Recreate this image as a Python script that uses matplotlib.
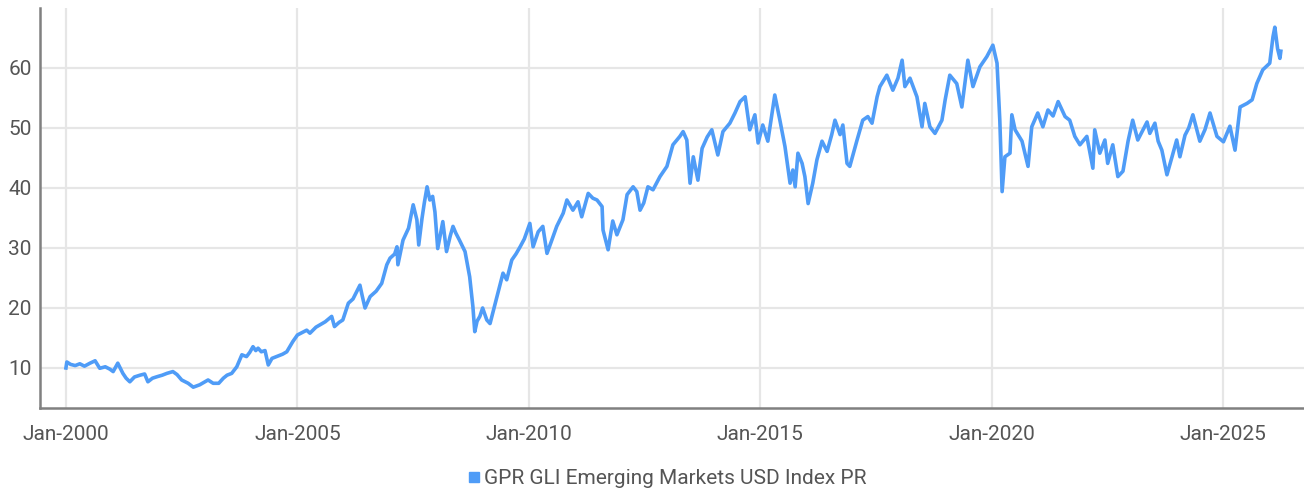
import matplotlib.pyplot as plt
from matplotlib.lines import Line2D

# values (fractional year, index level)
years = [
    2000.00, 2000.02, 2000.10, 2000.20, 2000.30, 2000.40, 2000.52, 2000.63, 2000.73, 2000.85, 2000.95,
    2001.02, 2001.12, 2001.23, 2001.30, 2001.38, 2001.48, 2001.60, 2001.70, 2001.77, 2001.87, 2001.97,
    2002.08, 2002.18, 2002.31, 2002.40, 2002.50, 2002.64, 2002.75, 2002.89, 2002.98,
    2003.07, 2003.18, 2003.30, 2003.40, 2003.48, 2003.58, 2003.69, 2003.80, 2003.90, 2003.97,
    2004.04, 2004.10, 2004.15, 2004.22, 2004.30, 2004.37, 2004.45, 2004.58, 2004.68, 2004.77, 2004.90,
    2005.00, 2005.10, 2005.20, 2005.27, 2005.40, 2005.60, 2005.74, 2005.80, 2005.90, 2005.98,
    2006.10, 2006.20, 2006.35, 2006.40, 2006.46, 2006.57, 2006.70, 2006.82, 2006.93,
    2007.00, 2007.10, 2007.15, 2007.17, 2007.28, 2007.40, 2007.50, 2007.58, 2007.62, 2007.69, 2007.74,
    2007.80, 2007.86, 2007.92, 2007.97,
    2008.03, 2008.14, 2008.22, 2008.30, 2008.36, 2008.42, 2008.50, 2008.62, 2008.72, 2008.79, 2008.83,
    2008.88, 2008.94,
    2009.00, 2009.09, 2009.16, 2009.31, 2009.44, 2009.52, 2009.63, 2009.72, 2009.81, 2009.90,
    2010.02, 2010.09, 2010.20, 2010.30, 2010.39, 2010.48, 2010.60, 2010.74, 2010.82, 2010.95,
    2011.06, 2011.14, 2011.28, 2011.38, 2011.47, 2011.58, 2011.60, 2011.71, 2011.81, 2011.90,
    2012.03, 2012.12, 2012.25, 2012.33, 2012.40, 2012.48, 2012.57, 2012.68, 2012.83, 2012.98,
    2013.11, 2013.26, 2013.33, 2013.41, 2013.48, 2013.55, 2013.65, 2013.74, 2013.85, 2013.95,
    2014.08, 2014.19, 2014.34, 2014.45, 2014.56, 2014.67, 2014.77, 2014.88, 2014.95,
    2015.05, 2015.16, 2015.31, 2015.42, 2015.53, 2015.64, 2015.70, 2015.75, 2015.81, 2015.90, 2015.96,
    2016.03, 2016.13, 2016.22, 2016.33, 2016.44, 2016.54, 2016.61, 2016.72, 2016.78, 2016.87, 2016.93,
    2017.08, 2017.21, 2017.32, 2017.41, 2017.52, 2017.58, 2017.73, 2017.86, 2017.97,
    2018.06, 2018.12, 2018.23, 2018.38, 2018.49, 2018.55, 2018.66, 2018.77, 2018.92, 2018.99,
    2019.09, 2019.24, 2019.35, 2019.48, 2019.59, 2019.74, 2019.89,
    2020.02, 2020.11, 2020.17, 2020.22, 2020.28, 2020.39, 2020.43, 2020.50, 2020.65, 2020.78, 2020.86, 2020.99,
    2021.10, 2021.21, 2021.32, 2021.43, 2021.58, 2021.68, 2021.79, 2021.90,
    2022.05, 2022.18, 2022.22, 2022.33, 2022.44, 2022.50, 2022.61, 2022.72, 2022.83, 2022.94,
    2023.04, 2023.15, 2023.35, 2023.41, 2023.52, 2023.59, 2023.67, 2023.78, 2023.89, 2023.99,
    2024.06, 2024.17, 2024.25, 2024.34, 2024.49, 2024.60, 2024.71, 2024.86,
    2025.00, 2025.14, 2025.25, 2025.36, 2025.51, 2025.62, 2025.72, 2025.85,
    2026.00, 2026.07, 2026.11, 2026.17, 2026.22, 2026.24,
]
values = [
    10.0, 11.0, 10.6, 10.4, 10.7, 10.3, 10.8, 11.2, 9.95, 10.2, 9.8,
    9.4, 10.8, 9.1, 8.3, 7.7, 8.5, 8.8, 9.0, 7.7, 8.3, 8.55,
    8.8, 9.1, 9.4, 8.9, 8.0, 7.45, 6.8, 7.2, 7.6,
    8.0, 7.45, 7.45, 8.3, 8.8, 9.1, 10.2, 12.2, 11.9, 12.6,
    13.55, 12.9, 13.3, 12.7, 12.9, 10.5, 11.6, 12.0, 12.3, 12.7, 14.4,
    15.5, 15.9, 16.3, 15.8, 16.8, 17.7, 18.6, 16.9, 17.6, 18.0,
    20.8, 21.5, 23.8, 22.0, 20.0, 21.9, 22.8, 24.1, 27.2,
    28.3, 29.0, 30.2, 27.2, 31.3, 33.3, 37.2, 34.7, 30.5, 34.9, 37.5,
    40.2, 38.0, 38.6, 36.0,
    29.9, 34.4, 29.4, 32.0, 33.6, 32.5, 31.3, 29.4, 25.2, 20.2, 16.05,
    17.8, 18.6,
    20.0, 18.0, 17.4, 21.9, 25.8, 24.7, 28.0, 29.0, 30.2, 31.5,
    34.1, 30.2, 32.7, 33.6, 29.1, 31.0, 33.6, 35.8, 38.0, 36.3,
    37.7, 35.2, 39.1, 38.3, 38.0, 36.9, 33.0, 29.7, 34.5, 32.2,
    34.7, 38.9, 40.2, 39.4, 36.3, 37.5, 40.2, 39.7, 41.9, 43.6,
    47.2, 48.6, 49.4, 48.0, 40.8, 45.2, 41.3, 46.6, 48.5, 49.7,
    45.5, 49.4, 50.8, 52.5, 54.4, 55.2, 49.7, 52.2, 47.5,
    50.5, 47.8, 55.5, 51.3, 46.9, 40.8, 43.0, 40.2, 45.8, 44.1, 41.9,
    37.4, 40.8, 44.7, 47.8, 46.1, 48.9, 51.3, 48.9, 50.5, 44.1, 43.6,
    47.8, 51.3, 51.9, 50.8, 55.2, 56.9, 58.8, 56.3, 58.3,
    61.3, 56.9, 58.3, 55.2, 50.2, 54.1, 50.2, 49.1, 51.3, 54.7,
    58.8, 57.4, 53.5, 61.3, 56.9, 60.2, 61.9,
    63.8, 60.8, 51.3, 39.4, 45.2, 45.8, 52.2, 49.7, 47.8, 43.6, 50.2, 52.5,
    50.2, 53.0, 52.0, 54.4, 51.9, 51.3, 48.6, 47.2,
    48.6, 43.3, 49.7, 45.8, 48.0, 44.1, 47.2, 41.9, 42.8, 47.8,
    51.3, 48.0, 51.0, 49.1, 50.8, 47.8, 46.3, 42.2, 45.2, 48.0,
    45.2, 48.8, 50.0, 52.2, 47.8, 49.7, 52.5, 48.6,
    47.7, 50.3, 46.3, 53.5, 54.1, 54.7, 57.4, 59.7,
    60.8, 65.2, 66.8, 63.2, 61.6, 62.8,
]

tick_years = [2000, 2005, 2010, 2015, 2020, 2025]
tick_labels = ['Jan-2000', 'Jan-2005', 'Jan-2010', 'Jan-2015', 'Jan-2020', 'Jan-2025']
y_ticks = [10, 20, 30, 40, 50, 60]
series_name = 'GPR GLI Emerging Markets USD Index PR'

plt.rcParams['font.family'] = ['Roboto', 'DejaVu Sans']
line_color = '#4f9cf7'
text_color = '#555555'

fig = plt.figure(figsize=(13.04, 4.93), dpi=100)
ax = fig.add_axes([40 / 1304, 85 / 493, 1264 / 1304, 400 / 493])

ax.plot(years, values, color=line_color, linewidth=2.6, solid_joinstyle='round')

ax.set_xlim(1999.44, 2026.74)
ax.set_ylim(3.33, 70)
ax.set_xticks(tick_years)
ax.set_xticklabels(tick_labels)
ax.set_yticks(y_ticks)

ax.grid(True, color='#e6e6e6', linewidth=1.6)
ax.set_axisbelow(True)
for side in ['top', 'right']:
    ax.spines[side].set_visible(False)
for side in ['left', 'bottom']:
    ax.spines[side].set_color('#808080')
    ax.spines[side].set_linewidth(1.8)

ax.tick_params(axis='x', length=0, pad=12, labelsize=15, labelcolor=text_color)
ax.tick_params(axis='y', length=0, pad=6, labelsize=15, labelcolor=text_color)

handle = Line2D([], [], color=line_color, marker='s', linestyle='none', markersize=7)
leg = fig.legend([handle], [series_name], loc='center', bbox_to_anchor=(666 / 1304, 1 - 479 / 493),
                 frameon=False, fontsize=15, handletextpad=0.1, handlelength=0.8)
for t in leg.get_texts():
    t.set_color(text_color)

fig.savefig('out.png', dpi=100)
